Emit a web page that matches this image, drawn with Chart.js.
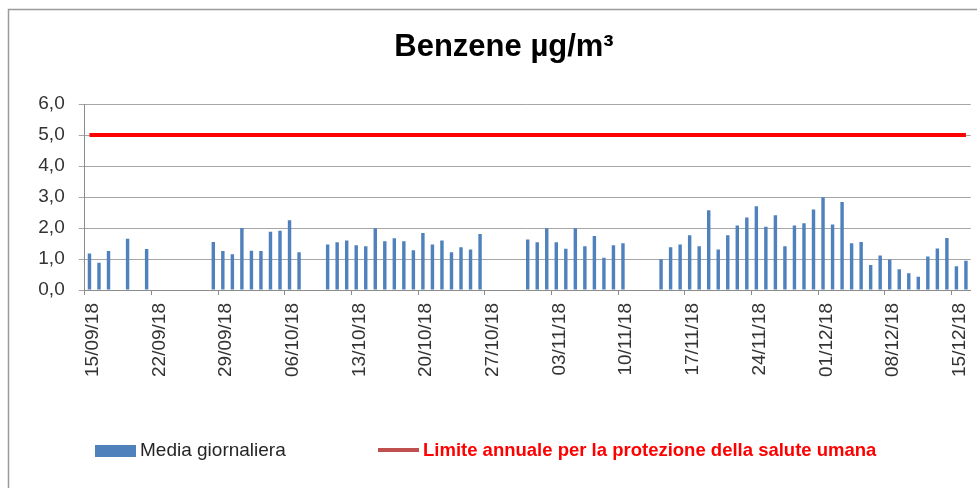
<!DOCTYPE html>
<html><head><meta charset="utf-8">
<script src="https://cdn.jsdelivr.net/npm/chart.js@4.4.1/dist/chart.umd.min.js"></script>
<style>html,body{margin:0;padding:0;background:#fff;overflow:hidden}canvas{display:block}</style>
</head><body>
<canvas id="c" width="977" height="488"></canvas>
<script>
// ---- data ----
const dates = [
  '15/09/18','16/09/18','17/09/18','18/09/18','19/09/18','20/09/18','21/09/18','22/09/18','23/09/18','24/09/18','25/09/18','26/09/18','27/09/18','28/09/18','29/09/18','30/09/18',
  '01/10/18','02/10/18','03/10/18','04/10/18','05/10/18','06/10/18','07/10/18','08/10/18','09/10/18','10/10/18','11/10/18','12/10/18','13/10/18','14/10/18','15/10/18','16/10/18','17/10/18','18/10/18','19/10/18','20/10/18','21/10/18','22/10/18','23/10/18','24/10/18','25/10/18','26/10/18','27/10/18','28/10/18','29/10/18','30/10/18','31/10/18',
  '01/11/18','02/11/18','03/11/18','04/11/18','05/11/18','06/11/18','07/11/18','08/11/18','09/11/18','10/11/18','11/11/18','12/11/18','13/11/18','14/11/18','15/11/18','16/11/18','17/11/18','18/11/18','19/11/18','20/11/18','21/11/18','22/11/18','23/11/18','24/11/18','25/11/18','26/11/18','27/11/18','28/11/18','29/11/18','30/11/18',
  '01/12/18','02/12/18','03/12/18','04/12/18','05/12/18','06/12/18','07/12/18','08/12/18','09/12/18','10/12/18','11/12/18','12/12/18','13/12/18','14/12/18','15/12/18','16/12/18'
];
const dailyMean = [
  1.18,0.88,1.26,null,1.65,null,1.32,null,null,null,null,null,null,1.55,1.26,1.15,
  2.00,1.27,1.26,1.88,1.91,2.25,1.22,null,null,1.47,1.54,1.60,1.44,1.41,1.99,1.57,1.67,1.57,1.28,1.84,1.47,1.60,1.22,1.38,1.31,1.81,null,null,null,null,1.63,
  1.54,1.99,1.54,1.33,1.99,1.41,1.74,1.04,1.44,1.51,null,null,null,0.99,1.38,1.47,1.77,1.41,2.57,1.31,1.77,2.08,2.34,2.70,2.04,2.41,1.41,2.08,2.15,2.60,
  2.99,2.11,2.84,1.51,1.55,0.81,1.11,0.98,0.67,0.54,0.43,1.08,1.34,1.68,0.77,0.94
];
const tickLabels = ['15/09/18','22/09/18','29/09/18','06/10/18','13/10/18','20/10/18','27/10/18','03/11/18','10/11/18','17/11/18','24/11/18','01/12/18','08/12/18','15/12/18'];
const limitValue = 5.0;
const yMin = 0, yMax = 6, yStep = 1;
const seriesNames = ['Media giornaliera', 'Limite annuale per la protezione della salute umana'];
const titleText = 'Benzene µg/m³';

// ---- styles ----
const FONT = '"Liberation Sans", Arial, sans-serif';
const BAR_COLOR = '#4F81BD';
const LIMIT_COLOR = '#FF0000';
const LEGEND_LIMIT_LINE = '#C0504D';
const GRID = '#a6a6a6';
const AXIS = '#8c8c8c';
const TEXT = '#333333';

const frame = {
  id: 'frame',
  beforeDraw(chart) {
    const ctx = chart.ctx;
    ctx.save();
    ctx.fillStyle = '#ffffff';
    ctx.fillRect(0, 0, chart.width, chart.height);
    ctx.strokeStyle = '#9a9a9a';
    ctx.lineWidth = 1.5;
    ctx.beginPath();
    ctx.moveTo(8.5, chart.height + 2);
    ctx.lineTo(8.5, 9.5);
    ctx.lineTo(chart.width + 2, 9.5);
    ctx.stroke();
    ctx.restore();
  }
};

const customLegend = {
  id: 'customLegend',
  afterDraw(chart) {
    const ctx = chart.ctx;
    const ds = chart.data.datasets;
    const cy = 451;
    ctx.save();
    ctx.textBaseline = 'middle';
    ctx.textAlign = 'left';
    ctx.fillStyle = ds[0].backgroundColor;
    ctx.fillRect(95, cy - 6, 41, 12);
    ctx.fillStyle = '#262626';
    ctx.font = '19px ' + FONT;
    ctx.fillText(ds[0].label, 140, cy);
    ctx.strokeStyle = LEGEND_LIMIT_LINE;
    ctx.lineWidth = 4;
    ctx.beginPath();
    ctx.moveTo(378, cy - 1);
    ctx.lineTo(419, cy - 1);
    ctx.stroke();
    ctx.fillStyle = LIMIT_COLOR;
    ctx.font = 'bold 18.5px ' + FONT;
    ctx.fillText(ds[1].label, 423, cy);
    ctx.restore();
  }
};

const barPoints = dailyMean.map((v, i) => ({ x: i + 0.5, y: v }));
const limitPoints = [{ x: 0.5, y: limitValue }, { x: dates.length - 0.5, y: limitValue }];

new Chart(document.getElementById('c'), {
  data: {
    datasets: [
      {
        type: 'bar',
        label: seriesNames[0],
        data: barPoints,
        backgroundColor: BAR_COLOR,
        borderWidth: 0,
        categoryPercentage: 1,
        barPercentage: 0.36,
        order: 2
      },
      {
        type: 'line',
        label: seriesNames[1],
        data: limitPoints,
        borderColor: LIMIT_COLOR,
        borderWidth: 4,
        pointRadius: 0,
        fill: false,
        order: 1
      }
    ]
  },
  options: {
    responsive: false,
    animation: false,
    devicePixelRatio: 1,
    layout: { padding: { left: 37.3, right: 6.3, top: 0, bottom: 0 } },
    plugins: {
      legend: { display: false },
      tooltip: { enabled: false },
      title: {
        display: true,
        text: titleText,
        color: '#000000',
        font: { family: FONT, size: 31, weight: 'bold', lineHeight: 1.2 },
        padding: { top: 28.4, bottom: 38.4 }
      }
    },
    scales: {
      x: {
        type: 'linear',
        offset: false,
        min: 0,
        max: dates.length,
        afterBuildTicks(scale) {
          scale.ticks = tickLabels.map(l => ({ value: dates.indexOf(l) }));
        },
        afterFit(scale) {
          scale.height = 198;
          scale.paddingLeft = 0;
          scale.paddingRight = 0;
        },
        grid: { display: true, offset: false, drawOnChartArea: false, drawTicks: true, tickLength: 5, color: AXIS },
        border: { display: true, color: AXIS, width: 1 },
        ticks: {
          autoSkip: false,
          minRotation: 90,
          maxRotation: 90,
          padding: 8,
          labelOffset: 8,
          color: TEXT,
          font: { family: FONT, size: 19 },
          callback: (v) => dates[v]
        }
      },
      y: {
        min: yMin,
        max: yMax,
        afterFit(scale) {
          scale.width = 84.7 - 37.3;
          scale.paddingTop = 0;
          scale.paddingBottom = 0;
        },
        ticks: {
          stepSize: yStep,
          padding: 14,
          color: TEXT,
          font: { family: FONT, size: 19 },
          callback: (v) => v.toFixed(1).replace('.', ',')
        },
        grid: { color: GRID, lineWidth: 1, tickLength: 6, drawTicks: true },
        border: { display: true, color: AXIS, width: 1 }
      }
    }
  },
  plugins: [frame, customLegend]
});
</script>
</body></html>
